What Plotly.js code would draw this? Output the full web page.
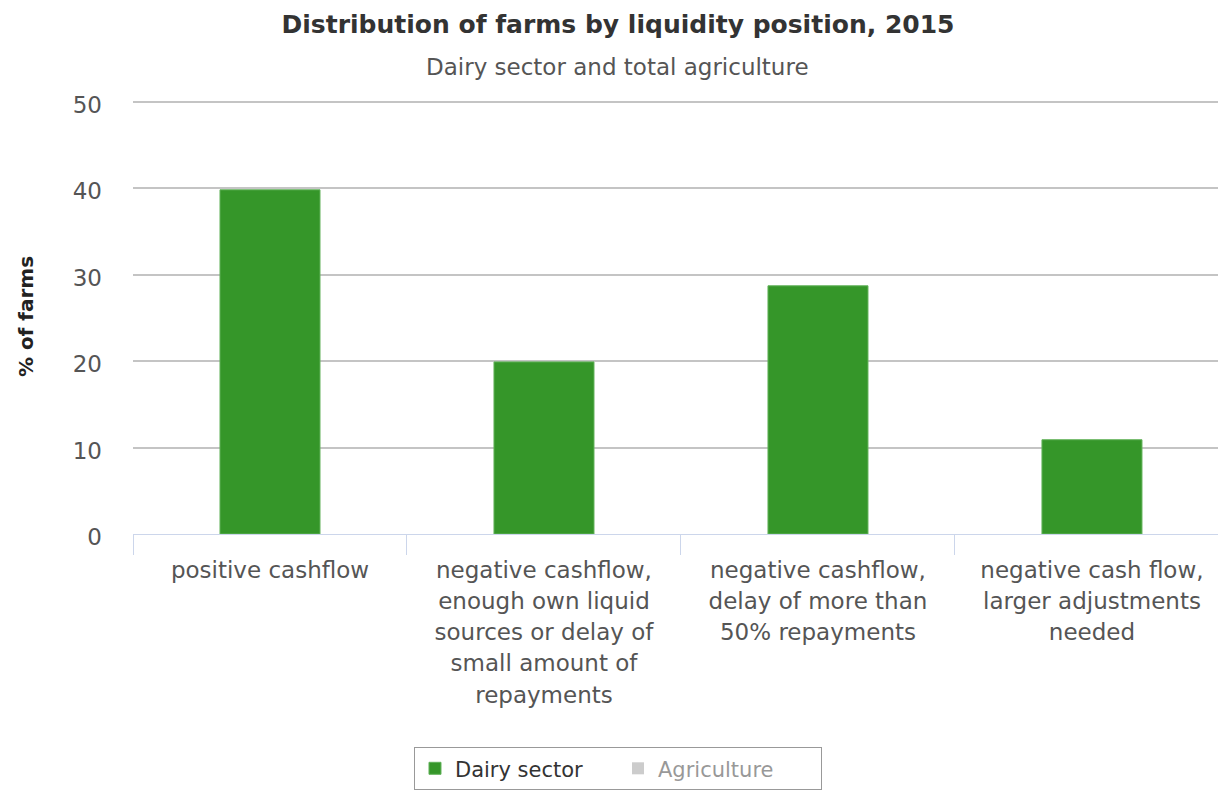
<!DOCTYPE html>
<html>
<head>
<meta charset="utf-8">
<script src="https://cdn.plot.ly/plotly-3.0.1.min.js"></script>
<style>html,body{margin:0;padding:0;background:#fff;}#chart{width:1218px;height:797px;}</style>
</head>
<body>
<div id="chart"></div>
<script>
const categories = [
  "positive cashflow",
  "negative cashflow,<br>enough own liquid<br>sources or delay of<br>small amount of<br>repayments",
  "negative cashflow,<br>delay of more than<br>50% repayments",
  "negative cash flow,<br>larger adjustments<br>needed"
];
const dairyValues = [39.8, 19.9, 28.7, 10.9];
const agricultureValues = [null, null, null, null]; // series hidden in the reference
const yTickValues = [0, 10, 20, 30, 40, 50];

const FONT = "DejaVu Sans, Verdana, sans-serif";

// wider line spacing for the wrapped category labels: base size 24 (sets line step), glyphs at 23px
const categoryTickText = categories.map(c =>
  c.split("<br>").map(line => '<span style="font-size:23px">' + line + '</span>').join("<br>")
);

const traces = [
  {
    type: "bar",
    name: "Dairy sector",
    x: categories,
    y: dairyValues,
    width: 0.365,
    marker: {color: "#359629", line: {color: "#62b25a", width: 1}},
    hoverinfo: "x+y"
  },
  {
    type: "bar",
    name: "Agriculture",
    x: categories,
    y: agricultureValues,
    visible: "legendonly",
    marker: {color: "#9a9a9a"}
  }
];

const layout = {
  width: 1218,
  height: 797,
  margin: {l: 133, r: 0, t: 99, b: 263},
  paper_bgcolor: "#ffffff",
  plot_bgcolor: "#ffffff",
  font: {family: FONT, color: "#333333"},
  showlegend: true,
  barmode: "group",
  title: {
    text: "Distribution of farms by liquidity position, 2015",
    font: {family: FONT, size: 25, color: "#333333", weight: "bold"},
    x: 0.5074, xanchor: "center", xref: "container",
    y: 0.969, yanchor: "middle", yref: "container"
  },
  annotations: [{
    text: "Dairy sector and total agriculture",
    xref: "paper", yref: "paper",
    x: 0.447, y: 1.074, xanchor: "center", yanchor: "middle",
    showarrow: false,
    font: {family: FONT, size: 23, color: "#555555"}
  }],
  xaxis: {
    type: "category",
    range: [-0.5, 3.46],
    tickvals: categories,
    ticktext: categoryTickText,
    tickson: "boundaries",
    ticks: "outside",
    ticklen: 20,
    tickwidth: 1,
    tickcolor: "#ccd6eb",
    ticklabelstandoff: 14,
    showline: true,
    linecolor: "#ccd6eb",
    linewidth: 1,
    showgrid: false,
    zeroline: false,
    tickfont: {family: FONT, size: 24, color: "#555555"},
    automargin: false,
    fixedrange: true
  },
  yaxis: {
    range: [0, 50.3],
    tickvals: yTickValues,
    ticktext: yTickValues.map(String),
    ticks: "",
    ticklabelstandoff: 30,
    ticklabelshift: 3,
    showgrid: true,
    gridcolor: "#c4c4c4",
    gridwidth: 1.5,
    zeroline: false,
    showline: false,
    tickfont: {family: FONT, size: 23, color: "#555555"},
    title: {
      text: "% of farms",
      font: {family: FONT, size: 20, color: "#222222", weight: "bold"},
      standoff: 33
    },
    automargin: false,
    fixedrange: true
  },
  legend: {
    orientation: "h",
    x: 0.447, xanchor: "center",
    y: -0.49, yanchor: "top",
    entrywidth: 158,
    entrywidthmode: "pixels",
    bordercolor: "#999999",
    borderwidth: 1,
    bgcolor: "#ffffff",
    font: {family: FONT, size: 21, color: "#333333"}
  }
};

Plotly.newPlot("chart", traces, layout, {displayModeBar: false});
</script>
</body>
</html>
